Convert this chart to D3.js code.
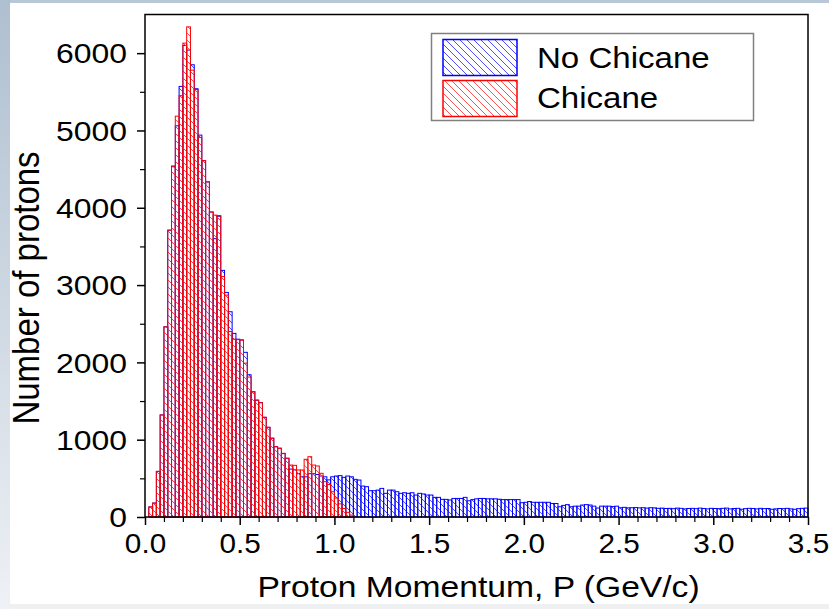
<!DOCTYPE html>
<html>
<head>
<meta charset="utf-8">
<script src="https://cdn.jsdelivr.net/npm/d3@7"></script>
<style>
  html, body { margin: 0; padding: 0; background: #ffffff; }
  svg { display: block; }
  text { font-family: "Liberation Sans", Arial, sans-serif; fill: #000; }
</style>
</head>
<body>
<script>
// ---------------- data ----------------
const binWidth = 0.02; // GeV/c
const seriesNames = ["No Chicane", "Chicane"];
const noChicane = [
  0, 130, 180, 590, 1320, 2460, 3710, 4540, 5060, 5570,
  6100, 6040, 5850, 5540, 4940, 4610, 4335, 3945, 3600, 3890,
  3190, 2905, 2655, 2375, 2300, 2290, 2130, 1840, 1620, 1510,
  1480, 1290, 1160, 1020, 910, 890, 820, 760, 620, 610,
  560, 520, 520, 560, 560, 550, 530, 520, 480, 520,
  530, 535, 513, 530, 520, 487, 478, 400, 392, 340,
  340, 348, 370, 306, 348, 348, 327, 306, 314, 306,
  314, 284, 306, 298, 284, 284, 254, 254, 228, 228,
  220, 240, 240, 240, 254, 210, 225, 235, 240, 240,
  235, 235, 235, 230, 225, 225, 225, 225, 225, 185,
  190, 200, 190, 190, 190, 190, 190, 175, 175, 133,
  150, 160, 133, 140, 140, 155, 160, 155, 140, 116,
  140, 140, 140, 135, 140, 120, 125, 118, 120, 122,
  118, 120, 115, 120, 118, 112, 115, 110, 112, 108,
  115, 112, 105, 110, 112, 108, 115, 110, 105, 112,
  110, 108, 112, 115, 105, 110, 112, 100, 108, 112,
  110, 105, 112, 108, 110, 100, 105, 110, 108, 112,
  105, 100, 108, 112, 115
];
const chicane = [
  0, 130, 180, 590, 1320, 2460, 3710, 4530, 5185, 5450,
  6130, 6340, 5780, 5530, 4910, 4610, 4335, 3945, 3905, 3900,
  3110, 2870, 2400, 2300, 2295, 2289, 1990, 1810, 1620, 1513,
  1478, 1289, 1160, 1018, 909, 888, 824, 759, 672, 668,
  608, 608, 746, 780, 672, 660, 565, 457, 420, 327,
  245, 170, 110, 60, 25
];
const xTickValues = [0, 0.5, 1.0, 1.5, 2.0, 2.5, 3.0, 3.5];
const yTickValues = [0, 1000, 2000, 3000, 4000, 5000, 6000];
const xTitle = "Proton Momentum, P (GeV/c)";
const yTitle = "Number of protons";

// ---------------- layout ----------------
const W = 829, H = 609;
const plot = { left: 145, right: 808, top: 14.5, bottom: 517 };
const stretch = 1.14; // horizontal text stretch of the original

const svg = d3.select("body").append("svg").attr("width", W).attr("height", H);
const defs = svg.append("defs");

// slide-like background edges
const lg = defs.append("linearGradient").attr("id", "leftEdge")
  .attr("x1", 0).attr("y1", 0).attr("x2", 0).attr("y2", 1);
lg.append("stop").attr("offset", "0%").attr("stop-color", "#aebfd0");
lg.append("stop").attr("offset", "100%").attr("stop-color", "#eef1f5");
svg.append("rect").attr("x", 0).attr("y", 0).attr("width", W).attr("height", H).attr("fill", "#fff");
svg.append("rect").attr("x", 0).attr("y", 0).attr("width", W).attr("height", 3).attr("fill", "#b9c8d7");
svg.append("rect").attr("x", 0).attr("y", 0).attr("width", 10).attr("height", H).attr("fill", "url(#leftEdge)");
svg.append("rect").attr("x", 10).attr("y", 604).attr("width", W - 10).attr("height", 5).attr("fill", "#eef0f2");

// hatch patterns
function hatch(id, color) {
  const p = defs.append("pattern").attr("id", id)
    .attr("patternUnits", "userSpaceOnUse").attr("width", 7).attr("height", 7);
  p.append("path").attr("d", "M-1,-1 L8,8 M-1,6 L1,8 M6,-1 L8,1")
    .attr("stroke", color).attr("stroke-width", 0.9).attr("fill", "none");
}
hatch("hatchBlue", "#3a3aff");
hatch("hatchRed", "#ff4040");

const x = d3.scaleLinear().domain([0, 3.5]).range([plot.left, plot.right]);
const y = d3.scaleLinear().domain([0, 6500]).range([plot.bottom, plot.top]);

function drawHist(values, color, fillId) {
  svg.append("g").selectAll("rect").data(values).join("rect")
    .attr("x", (d, i) => x(i * binWidth))
    .attr("width", (d, i) => x((i + 1) * binWidth) - x(i * binWidth))
    .attr("y", d => y(d))
    .attr("height", d => y(0) - y(d))
    .attr("fill", `url(#${fillId})`)
    .attr("stroke", color)
    .attr("stroke-width", 1)
    .style("display", d => d > 0 ? null : "none");
}
drawHist(noChicane, "#0000ff", "hatchBlue");
drawHist(chicane, "#ff0000", "hatchRed");

// frame
svg.append("rect").attr("x", plot.left).attr("y", plot.top)
  .attr("width", plot.right - plot.left).attr("height", plot.bottom - plot.top)
  .attr("fill", "none").attr("stroke", "#000").attr("stroke-width", 1.5);

// x axis
const xStretch = 1.1;
const xMinor = d3.range(0, 3.5001, 0.1).filter(v => Math.abs(v * 2 - Math.round(v * 2)) > 1e-6);
const xAx = svg.append("g").attr("transform", `translate(0,${plot.bottom})`)
  .call(d3.axisBottom(x).tickValues(xTickValues).tickSize(8).tickFormat(d3.format(".1f")));
xAx.select(".domain").remove();
xAx.selectAll(".tick line").attr("stroke-width", 1.5);
xAx.selectAll(".tick text").attr("y", 36).attr("dy", 0)
  .style("font-size", "27px").attr("transform", `scale(${xStretch},1)`);
const xAxMin = svg.append("g").attr("transform", `translate(0,${plot.bottom})`)
  .call(d3.axisBottom(x).tickValues(xMinor).tickSize(5).tickFormat(""));
xAxMin.select(".domain").remove();
xAxMin.selectAll(".tick line").attr("stroke-width", 1.2);

// y axis
const yMinor = d3.range(500, 6500, 1000);
const yAx = svg.append("g").attr("transform", `translate(${plot.left},0)`)
  .call(d3.axisLeft(y).tickValues(yTickValues).tickSize(8).tickFormat(d3.format("d")));
yAx.select(".domain").remove();
yAx.selectAll(".tick line").attr("stroke-width", 1.5);
yAx.selectAll(".tick text").attr("x", -18 / stretch).attr("dy", "0.35em")
  .style("font-size", "28px").attr("transform", `scale(${stretch},1)`);
const yAxMin = svg.append("g").attr("transform", `translate(${plot.left},0)`)
  .call(d3.axisLeft(y).tickValues(yMinor).tickSize(5).tickFormat(""));
yAxMin.select(".domain").remove();
yAxMin.selectAll(".tick line").attr("stroke-width", 1.2);
svg.selectAll(".tick text").attr("font-family", null);

// titles
svg.append("text")
  .attr("transform", `translate(${(plot.left + plot.right) / 2 + 2},597) scale(${stretch},1)`)
  .attr("text-anchor", "middle").style("font-size", "29.5px").text(xTitle);
svg.append("text")
  .attr("transform", `translate(26,288) scale(${stretch},1) rotate(-90)`)
  .attr("text-anchor", "middle").attr("dy", "0.35em").style("font-size", "33px").text(yTitle);

// legend
const leg = svg.append("g");
leg.append("rect").attr("x", 431.5).attr("y", 33.5).attr("width", 322).attr("height", 87)
  .attr("fill", "#fff").attr("stroke", "#808080").attr("stroke-width", 1.5);
const legItems = [
  { name: seriesNames[0], color: "#0000ff", fill: "hatchBlue" },
  { name: seriesNames[1], color: "#ff0000", fill: "hatchRed" }
];
legItems.forEach((it, i) => {
  leg.append("rect").attr("x", 443).attr("y", 39.5 + i * 41).attr("width", 74).attr("height", 36)
    .attr("fill", `url(#${it.fill})`).attr("stroke", it.color).attr("stroke-width", 1.5);
  leg.append("text")
    .attr("transform", `translate(537,${68 + i * 40}) scale(${stretch},1)`)
    .style("font-size", "29px").text(it.name);
});
</script>
</body>
</html>
